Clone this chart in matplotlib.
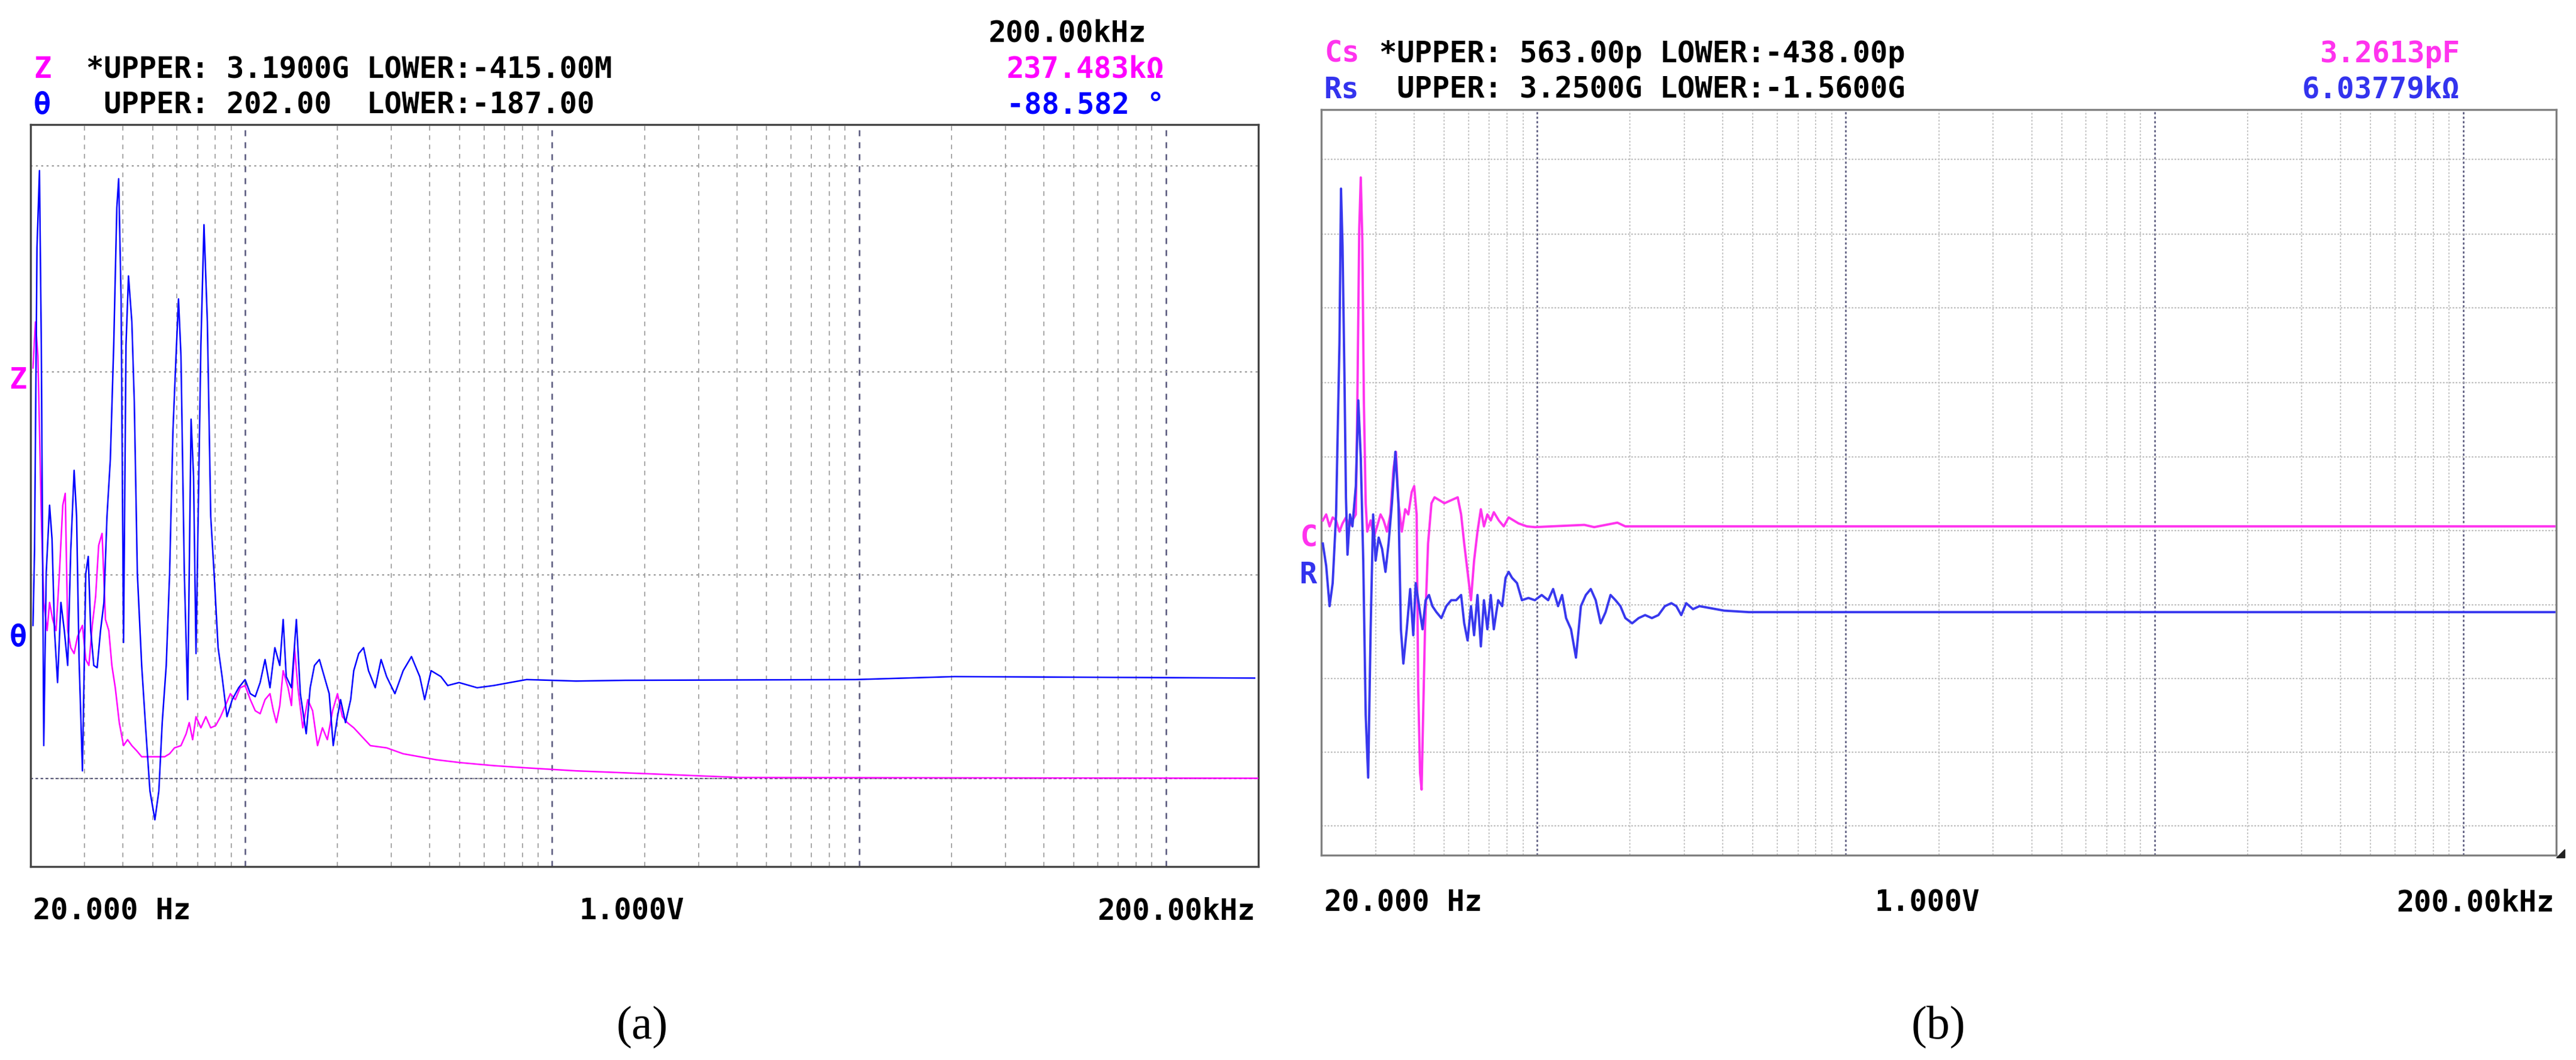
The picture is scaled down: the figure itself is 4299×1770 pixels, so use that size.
import numpy as np
import matplotlib
matplotlib.use("Agg")
import matplotlib.pyplot as plt

# ---------- data (log10 frequency [Hz], trace value in % of screen height) ----------
a_theta_logf = [1.309,1.314,1.322,1.330,1.336,1.344,1.352,1.363,1.371,1.379,1.389,1.400,1.411,1.422,1.432,1.443,1.451,1.459,1.470,1.481,1.489,1.497,1.507,1.518,1.529,1.540,1.550,1.561,1.572,1.582,1.588,1.596,1.604,1.612,1.620,1.631,1.639,1.649,1.663,1.676,1.690,1.706,1.719,1.730,1.743,1.754,1.765,1.775,1.783,1.791,1.802,1.813,1.824,1.832,1.840,1.848,1.856,1.866,1.877,1.888,1.899,1.912,1.925,1.941,1.958,1.979,2.000,2.017,2.033,2.049,2.065,2.081,2.097,2.113,2.124,2.134,2.151,2.167,2.180,2.199,2.212,2.226,2.242,2.258,2.274,2.287,2.301,2.311,2.327,2.344,2.354,2.370,2.386,2.402,2.424,2.443,2.461,2.488,2.515,2.542,2.569,2.585,2.606,2.638,2.660,2.697,2.756,2.810,2.863,2.917,3.078,3.239,3.989,4.311,5.289]
a_theta_val = [32.5,42.6,83.4,93.8,70.3,16.3,39.5,48.7,44.1,31.8,24.8,35.6,31.8,27.1,42.6,53.4,47.2,27.9,12.9,39.5,41.8,31.8,27.1,26.8,31.8,35.6,47.2,54.9,70.3,88.8,92.7,76.5,30.2,70.3,79.6,73.4,62.6,39.5,27.1,18.7,10.2,6.3,10.2,19.4,27.1,39.5,58.8,68.8,76.5,68.8,39.5,22.5,60.3,52.6,28.7,49.5,70.3,86.5,73.4,47.2,39.5,29.5,25.6,20.2,22.5,24.1,25.2,23.3,22.9,24.8,27.9,24.1,29.5,27.1,33.3,25.6,24.1,33.3,23.3,17.9,24.1,27.1,27.9,25.6,23.3,16.3,20.2,22.5,19.4,22.5,26.4,28.7,29.5,26.4,24.1,27.9,25.6,23.3,26.4,28.3,25.6,22.5,26.4,25.6,24.4,24.8,24.1,24.4,24.8,25.2,25.0,25.1,25.2,25.6,25.4]

a_z_logf = [1.309,1.317,1.325,1.336,1.344,1.355,1.363,1.373,1.384,1.395,1.406,1.414,1.422,1.432,1.443,1.454,1.470,1.481,1.491,1.502,1.513,1.523,1.534,1.545,1.556,1.566,1.577,1.590,1.604,1.617,1.631,1.647,1.663,1.738,1.754,1.770,1.791,1.808,1.818,1.829,1.840,1.856,1.872,1.888,1.904,1.920,1.936,1.952,1.968,1.984,2.000,2.017,2.033,2.049,2.065,2.081,2.092,2.102,2.113,2.124,2.140,2.151,2.161,2.172,2.188,2.204,2.220,2.236,2.252,2.268,2.285,2.301,2.317,2.333,2.354,2.381,2.408,2.461,2.515,2.569,2.622,2.703,2.810,2.917,3.078,3.319,3.614,5.302]
a_z_val = [67.2,73.4,68.8,47.2,35.6,31.8,35.6,33.3,31.8,39.5,48.7,50.3,31.8,29.5,28.7,31.0,32.5,27.9,27.1,32.5,36.4,43.3,44.9,33.3,31.8,27.1,24.1,19.4,16.3,17.1,16.3,15.6,14.8,14.8,15.2,16.0,16.3,17.9,19.4,17.1,20.2,18.7,20.2,18.7,19.0,20.2,21.7,23.3,22.5,24.1,24.4,22.5,21.0,20.6,22.5,23.3,21.0,19.4,21.7,26.4,24.1,21.7,29.5,24.1,18.7,22.5,21.0,16.3,18.7,17.1,21.0,23.3,20.2,19.4,18.7,17.5,16.3,16.0,15.2,14.8,14.4,14.0,13.6,13.3,12.9,12.5,12.0,11.9]

b_rs_logf = [1.306,1.317,1.328,1.338,1.349,1.360,1.365,1.370,1.376,1.381,1.386,1.394,1.402,1.413,1.421,1.429,1.437,1.445,1.453,1.461,1.469,1.477,1.487,1.498,1.509,1.519,1.530,1.541,1.551,1.559,1.567,1.578,1.589,1.599,1.607,1.618,1.629,1.639,1.650,1.661,1.674,1.690,1.706,1.722,1.738,1.754,1.764,1.775,1.786,1.796,1.807,1.818,1.828,1.839,1.850,1.860,1.874,1.887,1.898,1.908,1.919,1.935,1.951,1.972,1.993,2.015,2.036,2.052,2.068,2.081,2.094,2.110,2.126,2.142,2.158,2.174,2.190,2.206,2.222,2.238,2.254,2.270,2.286,2.308,2.329,2.350,2.372,2.393,2.414,2.435,2.451,2.467,2.483,2.505,2.526,2.553,2.606,2.686,5.295]
b_rs_val = [41.8,38.8,33.4,36.5,45.7,68.7,89.4,81.7,64.8,48.0,40.3,45.7,44.1,49.5,61.0,53.3,39.5,18.8,10.4,30.3,45.7,39.5,42.6,41.1,38.0,41.8,47.2,54.1,47.2,30.3,25.7,30.3,35.7,29.5,36.5,33.4,30.3,34.2,34.9,33.4,32.6,31.8,33.4,34.2,34.2,34.9,31.1,28.8,33.4,29.5,34.9,28.0,34.2,30.3,34.9,30.3,34.2,33.4,37.2,38.0,37.2,36.5,34.2,34.5,34.2,34.9,34.2,35.7,33.4,34.9,31.8,30.3,26.5,33.4,34.9,35.7,34.2,31.1,32.6,34.9,34.2,33.4,31.8,31.1,31.8,32.2,31.8,32.2,33.4,33.8,33.4,32.2,33.8,33.0,33.4,33.2,32.8,32.6,32.6]

b_cs_logf = [1.306,1.317,1.328,1.338,1.349,1.360,1.370,1.381,1.392,1.402,1.413,1.418,1.424,1.429,1.434,1.439,1.445,1.450,1.461,1.471,1.482,1.493,1.503,1.514,1.525,1.535,1.543,1.551,1.562,1.573,1.583,1.594,1.602,1.610,1.615,1.621,1.626,1.631,1.637,1.647,1.658,1.668,1.700,1.743,1.754,1.764,1.775,1.786,1.796,1.807,1.818,1.828,1.839,1.850,1.860,1.876,1.892,1.908,1.924,1.940,1.967,1.993,2.153,2.185,2.260,2.286,5.295]
b_cs_val = [44.9,45.7,44.1,45.3,44.9,43.4,44.5,45.3,44.1,44.9,45.7,61.0,84.0,90.9,82.5,61.0,47.2,43.4,44.9,42.6,44.1,45.7,44.9,43.4,45.7,51.8,54.1,47.2,43.4,46.4,45.7,48.7,49.5,45.7,22.6,11.1,8.8,18.8,30.3,41.8,47.2,48.0,47.2,48.0,45.7,41.8,38.0,34.2,39.5,43.4,46.4,44.1,45.7,44.9,46.0,44.9,44.1,45.3,44.9,44.5,44.1,44.0,44.3,44.0,44.6,44.1,44.1]

a_hgrid = [94.4, 66.7, 39.3, 11.9]
b_hgrid = [3.9, 13.8, 23.7, 33.6, 43.5, 53.4, 63.4, 73.4, 83.3, 93.3]

a_header = [("Z", "*UPPER: 3.1900G LOWER:-415.00M", "237.483kΩ", "#ff00ff"),
            ("θ", " UPPER: 202.00  LOWER:-187.00", "-88.582 °", "#0000ff")]
b_header = [("Cs", "*UPPER: 563.00p LOWER:-438.00p", "3.2613pF", "#ff33ee"),
            ("Rs", " UPPER: 3.2500G LOWER:-1.5600G", "6.03779kΩ", "#3333ee")]
x_labels = ["20.000 Hz", "1.000V", "200.00kHz"]

W, H = 4299, 1770
fig = plt.figure(figsize=(W/100, H/100), dpi=100)
MONO = "DejaVu Sans Mono"

def px_axes(x0, y0, x1, y1):
    return fig.add_axes([x0/W, 1-y1/H, (x1-x0)/W, (y1-y0)/H])

def setup(ax, hgrid, dense, border):
    ax.set_xscale("log")
    ax.set_xlim(20, 2e5)
    ax.set_ylim(0, 100)
    ax.set_xticks([]); ax.set_yticks([]); ax.minorticks_off()
    for dec in [10, 100, 1000, 10000, 100000]:
        for m in range(2, 11):
            f = dec*m
            if f <= 20 or f >= 2e5:
                continue
            major = (m == 10)
            ax.axvline(f, color="#55557a" if major else ("#a8a8a8" if not dense else "#c4c4c4"),
                       lw=1.8 if major else 1.4,
                       ls=(0, (4, 4)) if not dense else (0, (1.5, 1.5)), zorder=1)
    for y in hgrid:
        ax.axhline(y, color="#9a9a9a" if not dense else "#bdbdbd", lw=1.6,
                   ls=(0, (1.5, 2.5)) if not dense else (0, (1.2, 1.2)), zorder=1)
    for s in ax.spines.values():
        s.set_color(border); s.set_linewidth(2.4)

# panel a
axa = px_axes(51, 208, 2100, 1447)
setup(axa, a_hgrid, False, "#444444")
axa.axhline(a_hgrid[-1], color="#555577", lw=1.5, ls=(0, (2, 2)), zorder=1)
axa.plot(10**np.array(a_z_logf), a_z_val, color="#ff00ff", lw=1.8, zorder=3)
axa.plot(10**np.array(a_theta_logf), a_theta_val, color="#0000ff", lw=1.8, zorder=4)

# panel b
axb = px_axes(2205, 183, 4266, 1428)
setup(axb, b_hgrid, True, "#808080")
axb.plot(10**np.array(b_cs_logf), b_cs_val, color="#ff33ee", lw=2.8, zorder=3)
axb.plot(10**np.array(b_rs_logf), b_rs_val, color="#3838ee", lw=2.8, zorder=4)
fig.patches.append(plt.Polygon([[4266/W, 1-1432/H], [4280/W, 1-1432/H], [4280/W, 1-1418/H]],
                               closed=True, transform=fig.transFigure, color="#222222"))

def T(x, y, s, c="black", ha="left", fs=35):
    fig.text(x/W, 1-y/H, s, color=c, ha=ha, va="center", fontsize=fs, family=MONO, weight="bold")

# header a
T(1913, 55, "200.00kHz", ha="right")
for i, (nm, txt, val, col) in enumerate(a_header):
    yy = 116 + 60*i
    T(56, yy, nm, col)
    T(144, yy, txt)
    T(1943, yy, val, col, ha="right")
# header b
for i, (nm, txt, val, col) in enumerate(b_header):
    yy = 90 + 60*i
    T(2210, yy, nm, col)
    T(2302, yy, txt)
    T(4105, yy, val, col, ha="right")

# side labels
T(30, 635, "Z", "#ff00ff", ha="center")
T(30, 1065, "θ", "#0000ff", ha="center")
T(2184, 898, "C", "#ff33ee", ha="center")
T(2184, 960, "R", "#3333ee", ha="center")

# bottom labels
for (x0, x1, yy) in [(55, 2094, 1522), (2210, 4262, 1508)]:
    T(x0, yy, x_labels[0])
    T((x0+x1)/2 - 20, yy, x_labels[1], ha="center")
    T(x1, yy, x_labels[2], ha="right")

fig.text(1072/W, 1-1716/H, "(a)", ha="center", va="center", fontsize=56, family="Liberation Serif")
fig.text(3235/W, 1-1716/H, "(b)", ha="center", va="center", fontsize=56, family="Liberation Serif")

fig.savefig("out.png", dpi=100)
